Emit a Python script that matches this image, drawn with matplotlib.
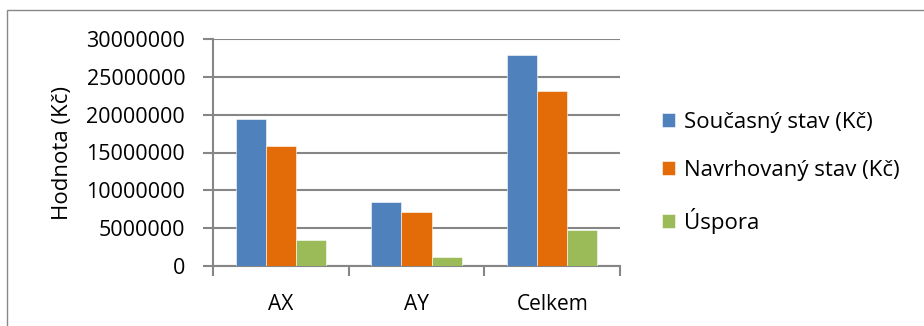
import numpy as np
import matplotlib.pyplot as plt
from matplotlib.patches import Rectangle

categories = ['AX', 'AY', 'Celkem']
soucasny = [19400000, 8400000, 27900000]
navrhovany = [15900000, 7100000, 23100000]
uspora = [3400000, 1250000, 4750000]
series_names = ['Současný stav (Kč)', 'Navrhovaný stav (Kč)', 'Úspora']
yticks = [0, 5000000, 10000000, 15000000, 20000000, 25000000, 30000000]

colors = ['#4F81BD', '#E36C09', '#9BBB59']
grid_col = '#868686'

plt.rcParams['font.family'] = ['Open Sans', 'DejaVu Sans']

fig = plt.figure(figsize=(9.24, 3.26), dpi=100)
# outer chart border
fig.patches.append(Rectangle((7 / 924, -0.01), 1.0, 1 - 10 / 326 + 0.01,
                             transform=fig.transFigure, fill=False,
                             edgecolor='#888888', linewidth=1.0))

ax = fig.add_axes([213 / 924, 1 - 266 / 326, (620 - 213) / 924, (266 - 39) / 326])

x = np.arange(len(categories))
w = 0.222
for i, vals in enumerate([soucasny, navrhovany, uspora]):
    ax.bar(x + (i - 1) * w, vals, w, color=colors[i], label=series_names[i],
           edgecolor='white', linewidth=0.4, zorder=3)

ax.set_xlim(-0.5, 2.5)
ax.set_ylim(0, 30000000)
ax.set_yticks(yticks)
ax.set_yticklabels([str(v) for v in yticks], fontsize=15.5)
ax.yaxis.grid(True, color=grid_col, linewidth=1.5, zorder=0)
ax.set_xticks(x)
ax.set_xticklabels(categories, fontsize=15)
ax.tick_params(axis='x', length=0, pad=20)
ax.set_xticks([-0.5, 0.5, 1.5, 2.5], minor=True)
ax.tick_params(axis='x', which='minor', length=7, width=1.5, color=grid_col)
ax.tick_params(axis='y', length=7, width=1.5, color=grid_col, pad=13)

for s in ['top', 'right']:
    ax.spines[s].set_visible(False)
ax.spines['left'].set_color(grid_col)
ax.spines['left'].set_linewidth(1.5)
ax.spines['bottom'].set_color(grid_col)
ax.spines['bottom'].set_linewidth(1.5)

ax.set_ylabel('Hodnota (Kč)', fontsize=16)
ax.yaxis.set_label_coords(-0.345, 0.5)

ax.legend(loc='center left', bbox_to_anchor=(1.103, 0.41), frameon=False,
          fontsize=16, handlelength=0.6, handleheight=0.6,
          handletextpad=0.4, labelspacing=1.2, borderpad=0, borderaxespad=0)

fig.savefig('out.png', dpi=100)
